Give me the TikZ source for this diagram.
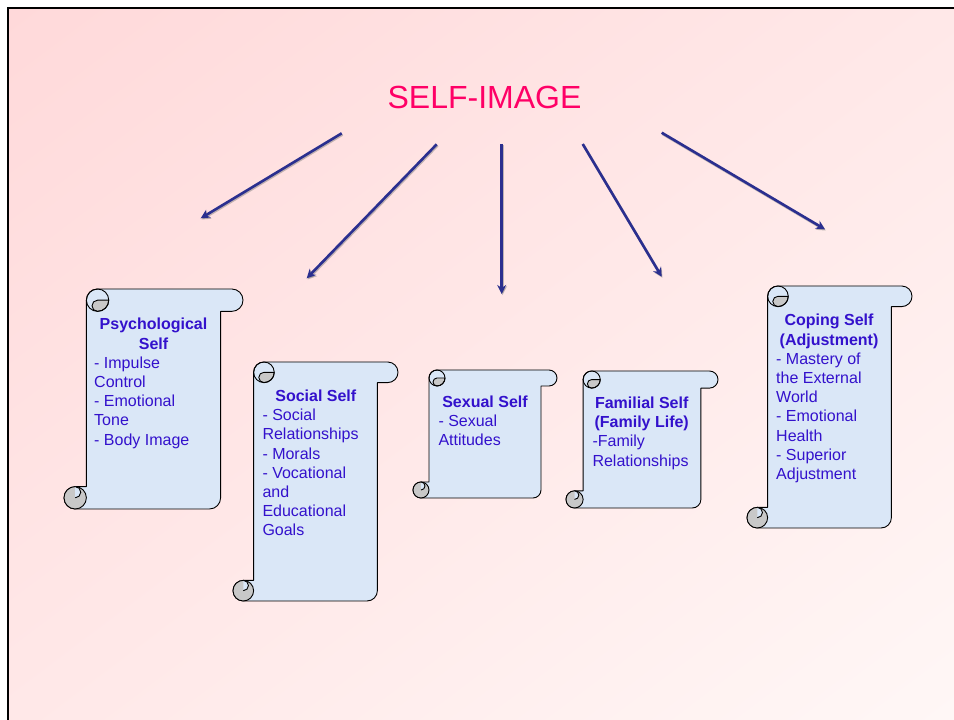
\documentclass[tikz,border=0pt]{standalone}
\usepackage{fontspec}
\setmainfont{Liberation Sans}
\usetikzlibrary{arrows.meta,shadings}
\definecolor{bgA}{RGB}{255,217,218}
\definecolor{bgB}{RGB}{255,232,232}
\definecolor{bgC}{RGB}{255,247,246}
\definecolor{scrollblue}{RGB}{218,231,247}
\definecolor{curlgray}{RGB}{200,200,200}
\definecolor{txtblue}{RGB}{51,17,204}
\definecolor{titlepink}{RGB}{255,0,102}
\definecolor{arrownavy}{RGB}{43,47,143}
\newcommand\drawscroll[4]{%
  \pgfmathsetmacro\scL{#1}%
  \pgfmathsetmacro\scT{720-#2}%
  \pgfmathsetmacro\scR{#3}%
  \pgfmathsetmacro\scB{720-#4}%
  \pgfmathsetmacro\scC{0.125*min(#3-#1,#4-#2)}%
  \pgfmathsetmacro\scH{\scC/2}%
  \pgfmathsetmacro\scQ{\scC/4}%
  \path[scrollbody] (\scL+\scC,\scT-\scH)
     arc[start angle=180,end angle=90,radius=\scH]
     -- (\scR-\scH,\scT)
     arc[start angle=90,end angle=-90,radius=\scH]
     -- (\scR-\scC,\scT-\scC)
     -- (\scR-\scC,\scB+\scH)
     arc[start angle=0,end angle=-90,radius=\scH]
     -- (\scL+\scH,\scB)
     arc[start angle=270,end angle=90,radius=\scH]
     -- (\scL+\scC,\scB+\scC) -- cycle;
  \path[curl] (\scL+\scC+\scH,\scT-\scC)
     arc[start angle=270,end angle=360,radius=\scH]
     -- (\scL+\scC+\scH,\scT-\scH)
     arc[start angle=90,end angle=270,radius=\scQ] -- cycle;
  \draw[scrollline] (\scL+\scC+\scH,\scT-\scH) circle[radius=\scH];
  \path[curl] (\scL+\scH,\scB+\scH) circle[radius=\scH];
  \path[fill=scrollblue] (\scL+\scH,\scB+\scC) arc[start angle=90,end angle=-90,radius=\scQ] -- cycle;
  \draw[scrollline] (\scL+\scH,\scB+\scC) arc[start angle=90,end angle=-90,radius=\scQ];
}
\begin{document}
\begin{tikzpicture}[x=1pt,y=1pt,
  scrollline/.style={draw=black,line width=0.9pt},
  scrollbody/.style={fill=scrollblue,draw=black,line width=0.9pt,line join=round},
  curl/.style={fill=curlgray,draw=black,line width=0.9pt,line join=round},
  head/.style={font=\fontsize{16}{19.2}\selectfont\bfseries,text=txtblue,align=center,inner sep=0pt,anchor=north},
  items/.style={font=\fontsize{16}{19.2}\selectfont,text=txtblue,align=left,inner sep=0pt,anchor=north west},
  link/.style={draw=arrownavy,line width=2.6pt,-{Stealth[length=9pt,width=9pt]}},
  linkshadow/.style={draw=black!55,opacity=0.45,line width=2.6pt,-{Stealth[length=9pt,width=9pt]}}]
\useasboundingbox (0,0) rectangle (954,720);
\clip (0,0) rectangle (954,720);
\fill[white] (0,0) rectangle (954,720);
\shade[upper left=bgA,upper right=bgB,lower left=bgB,lower right=bgC] (8,0) rectangle (954,712);
\draw[line width=2.5pt] (8,-10) -- (8,712) -- (970,712);

% title
\node[font=\fontsize{32}{38}\selectfont,text=titlepink,anchor=base,inner sep=0pt] (title) at (484.5,611.7) {SELF-IMAGE};

% arrows
\coordinate (s1) at (341.7,586.7); \coordinate (e1) at (200.7,501.7);
\coordinate (s2) at (436.7,575.7); \coordinate (e2) at (306.7,441.7);
\coordinate (s3) at (501.7,576);   \coordinate (e3) at (501.7,426);
\coordinate (s4) at (582.7,576);   \coordinate (e4) at (661.7,443.3);
\coordinate (s5) at (661.7,587.3); \coordinate (e5) at (825,490.7);
\foreach \i in {1,...,5}{
  \draw[linkshadow,transform canvas={shift={(0.8pt,-1.2pt)}}] (s\i) -- (e\i);
  \draw[link] (s\i) -- (e\i);
}

% scrolls
\drawscroll{64}{289}{243}{509}
\drawscroll{233}{362}{398}{601}
\drawscroll{413}{370}{557}{498}
\drawscroll{566}{371}{718}{508}
\drawscroll{747}{286}{912}{528}

% texts
\node[head] (psyh) at (153.5,402.3) {\rule{0pt}{12pt}Psychological\\Self};
\node[items] (psyl) at (94,363.9) {\rule{0pt}{12pt}- Impulse\\Control\\- Emotional\\Tone\\- Body Image};

\node[head] (soch) at (315.8,330.6) {\rule{0pt}{12pt}Social Self};
\node[items] (socl) at (262.3,311.4) {\rule{0pt}{12pt}- Social\\Relationships\\- Morals\\- Vocational\\and\\Educational\\Goals};

\node[head] (sexh) at (485,324.6) {\rule{0pt}{12pt}Sexual Self};
\node[items] (sexl) at (438.3,305.4) {\rule{0pt}{12pt}- Sexual\\Attitudes};

\node[head] (famh) at (641.7,323.6) {\rule{0pt}{12pt}Familial Self\\(Family Life)};
\node[items] (faml) at (592.3,285.2) {\rule{0pt}{12pt}-Family\\Relationships};

\node[head] (coph) at (829,406.3) {\rule{0pt}{12pt}Coping Self\\(Adjustment)};
\node[items] (copl) at (776,367.9) {\rule{0pt}{12pt}- Mastery of\\the External\\World\\- Emotional\\Health\\- Superior\\Adjustment};
\end{tikzpicture}
\end{document}
